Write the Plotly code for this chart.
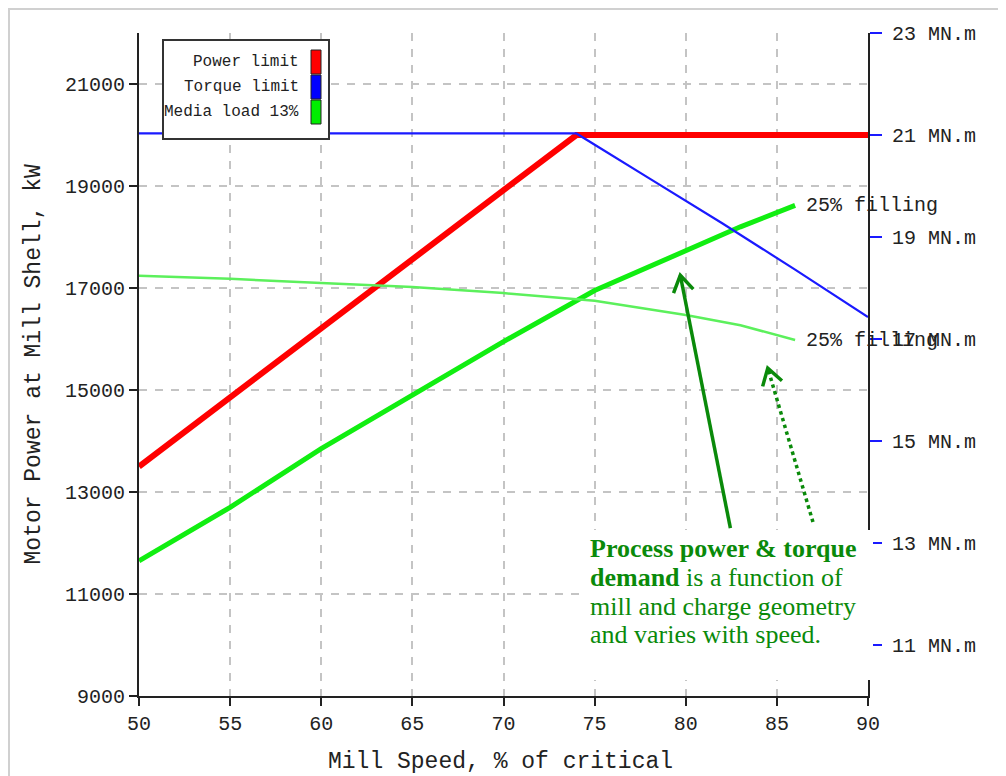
import math
import plotly.graph_objects as go

# ---------------- data ----------------
speed_power = [50, 74, 90]
power_limit_kw = [13500, 20000, 20000]

speed_torque = [50, 74, 78, 82, 86, 90]
torque_limit_mnm = [21.03, 21.03, 20.15, 19.27, 18.36, 17.43]

speed_demand = [50, 55, 60, 65, 70, 75, 80, 83, 86]
power_demand_kw = [11650, 12700, 13850, 14900, 15950, 16950, 17720, 18200, 18620]
torque_demand_mnm = [18.24, 18.18, 18.10, 18.02, 17.90, 17.75, 17.47, 17.27, 16.98]

x_ticks = [50, 55, 60, 65, 70, 75, 80, 85, 90]
y_ticks = [9000, 11000, 13000, 15000, 17000, 19000, 21000]
y2_ticks = [11, 13, 15, 17, 19, 21, 23]
y_tick_text = [str(v) for v in y_ticks]
y2_tick_text = [f"{v} MN.m" for v in y2_ticks]

legend_names = ["Power limit", "Torque limit", "Media load 13%"]
legend_colors = ["#ff0000", "#0000ff", "#00ee00"]

curve_label = "25% filling"
note_lines = ["<b>Process power &amp; torque</b>",
              "<b>demand</b> is a function of",
              "mill and charge geometry",
              "and varies with speed."]

# arrow (head, tail) in data coordinates
solid_arrow = dict(head=(79.7, 17250), tail=(82.45, 12290))
dotted_arrow = dict(head=(84.5, 15430), tail=(86.98, 12410))

# ---------------- layout helpers (screen pixels; page has an 8px body offset) ----------------
OFF = 8
L, R, T, B = 139, 868, 33, 696
W, H = 1006, 776
X_RANGE = [50, 90]
Y_RANGE = [9000, 22000]


def pxx(x):
    return (x - L) / (R - L)


def pxy(y):
    return (B - y) / (B - T)


def data_to_px(sx, kw):
    px = L + (sx - X_RANGE[0]) / (X_RANGE[1] - X_RANGE[0]) * (R - L)
    py = B - (kw - Y_RANGE[0]) / (Y_RANGE[1] - Y_RANGE[0]) * (B - T)
    return px, py


def head_path(arrow, leg=19, ang=32):
    hx, hy = data_to_px(*arrow["head"])
    tx, ty = data_to_px(*arrow["tail"])
    dx, dy = tx - hx, ty - hy
    n = math.hypot(dx, dy)
    ux, uy = dx / n, dy / n
    pts = []
    for s in (-1, 1):
        a = math.radians(ang * s)
        rx = ux * math.cos(a) - uy * math.sin(a)
        ry = ux * math.sin(a) + uy * math.cos(a)
        pts.append((hx + leg * rx, hy + leg * ry))
    (x1, y1), (x2, y2) = pts
    return (f"M{pxx(x1)},{pxy(y1)} L{pxx(hx)},{pxy(hy)} L{pxx(x2)},{pxy(y2)}")


RED = "#ff0000"
BLUE = "#1a1aff"
GREEN = "#11ee11"
LGREEN = "#5cf05c"
DGREEN = "#0a8a0a"
MONO = "Liberation Mono"
TXT = "#222222"

fig = go.Figure()

fig.add_trace(go.Scatter(x=speed_demand, y=torque_demand_mnm, yaxis="y2", mode="lines",
                         line=dict(color=LGREEN, width=2.5), showlegend=False))
fig.add_trace(go.Scatter(x=speed_torque, y=torque_limit_mnm, yaxis="y2", mode="lines",
                         line=dict(color=BLUE, width=2.2), showlegend=False))
fig.add_trace(go.Scatter(x=speed_power, y=power_limit_kw, mode="lines",
                         line=dict(color=RED, width=6), showlegend=False))
fig.add_trace(go.Scatter(x=speed_demand, y=power_demand_kw, mode="lines",
                         line=dict(color=GREEN, width=5), showlegend=False))

shapes = []
annotations = []

# white box behind the note
shapes.append(dict(type="rect", xref="paper", yref="paper",
                   x0=pxx(583), x1=pxx(873), y0=pxy(680), y1=pxy(530),
                   fillcolor="white", line=dict(width=0), layer="above"))

# outer light frame
shapes.append(dict(type="rect", xref="paper", yref="paper",
                   x0=pxx(9), x1=pxx(1030), y0=pxy(800), y1=pxy(9),
                   fillcolor="rgba(0,0,0,0)", line=dict(color="#d0d0d0", width=2), layer="above"))

# legend box
shapes.append(dict(type="rect", xref="paper", yref="paper",
                   x0=pxx(163), x1=pxx(329), y0=pxy(139), y1=pxy(40),
                   fillcolor="white", line=dict(color="#333333", width=2), layer="above"))
row_y = [62, 87, 112]
for name, col, yy in zip(legend_names, legend_colors, row_y):
    shapes.append(dict(type="rect", xref="paper", yref="paper",
                       x0=pxx(311), x1=pxx(321), y0=pxy(yy + 12), y1=pxy(yy - 12),
                       fillcolor=col, line=dict(color="#222222", width=1), layer="above"))
    annotations.append(dict(xref="paper", yref="paper", x=pxx(301), y=pxy(yy),
                            xanchor="right", yanchor="middle", showarrow=False,
                            text=name, font=dict(family=MONO, size=16, color=TXT)))

# curve end labels
annotations.append(dict(x=speed_demand[-1], y=power_demand_kw[-1], xref="x", yref="y",
                        xanchor="left", yanchor="middle", xshift=9, showarrow=False,
                        text=curve_label, font=dict(family=MONO, size=20, color=TXT)))
annotations.append(dict(x=speed_demand[-1], y=torque_demand_mnm[-1], xref="x", yref="y2",
                        xanchor="left", yanchor="middle", xshift=9, showarrow=False,
                        text=curve_label, font=dict(family=MONO, size=20, color=TXT)))

# note text, one annotation per line
for line, yy in zip(note_lines, [548, 577, 606, 634]):
    annotations.append(dict(xref="paper", yref="paper", x=pxx(588), y=pxy(yy),
                            xanchor="left", yanchor="middle", align="left", showarrow=False,
                            text=line,
                            font=dict(family="Liberation Serif", size=26, color=DGREEN)))

# arrows: shafts + open V heads
shapes.append(dict(type="line", xref="x", yref="y",
                   x0=solid_arrow["tail"][0], y0=solid_arrow["tail"][1],
                   x1=solid_arrow["head"][0], y1=solid_arrow["head"][1],
                   line=dict(color=DGREEN, width=3.5), layer="above"))
shapes.append(dict(type="line", xref="x", yref="y",
                   x0=dotted_arrow["tail"][0], y0=dotted_arrow["tail"][1],
                   x1=dotted_arrow["head"][0], y1=dotted_arrow["head"][1],
                   line=dict(color=DGREEN, width=3.5, dash="dot"), layer="above"))
for arr in (solid_arrow, dotted_arrow):
    shapes.append(dict(type="path", xref="paper", yref="paper", path=head_path(arr),
                       line=dict(color=DGREEN, width=3.5), layer="above"))

# axis titles
annotations.append(dict(xref="paper", yref="paper", x=pxx(33), y=0.5, textangle=-90,
                        xanchor="center", yanchor="middle", showarrow=False,
                        text="Motor Power at Mill Shell, kW",
                        font=dict(family=MONO, size=23, color=TXT)))
annotations.append(dict(xref="paper", yref="paper", x=pxx(500), y=pxy(762),
                        xanchor="center", yanchor="middle", showarrow=False,
                        text="Mill Speed, % of critical",
                        font=dict(family=MONO, size=23, color=TXT)))

fig.update_layout(
    width=W, height=H,
    margin=dict(l=L - OFF, r=W - (R - OFF), t=T - OFF, b=H - (B - OFF), pad=0),
    paper_bgcolor="white", plot_bgcolor="white",
    showlegend=False,
    shapes=shapes, annotations=annotations,
    xaxis=dict(range=X_RANGE, tickvals=x_ticks, ticks="outside", ticklen=8, tickwidth=2,
               tickcolor="#222", showline=True, linecolor="#222", linewidth=2,
               showgrid=True, gridcolor="#c4c4c4", griddash="8px,8px", gridwidth=1.5,
               zeroline=False, tickfont=dict(family=MONO, size=20, color=TXT)),
    yaxis=dict(range=Y_RANGE, tickvals=y_ticks, ticktext=y_tick_text,
               ticks="outside", ticklen=8, tickwidth=2,
               tickcolor="#222", showline=True, linecolor="#222", linewidth=2,
               showgrid=True, gridcolor="#c4c4c4", griddash="8px,8px", gridwidth=1.5,
               zeroline=False, tickfont=dict(family=MONO, size=20, color=TXT)),
    yaxis2=dict(range=[10, 23], overlaying="y", side="right", tickvals=y2_ticks,
                ticktext=y2_tick_text, ticks="outside", ticklen=12, tickwidth=2,
                tickcolor=BLUE, showline=True, linecolor="#222", linewidth=2,
                showgrid=False, zeroline=False, ticklabelstandoff=6,
                tickfont=dict(family=MONO, size=20, color=TXT)),
)

fig.write_html("out.html")
